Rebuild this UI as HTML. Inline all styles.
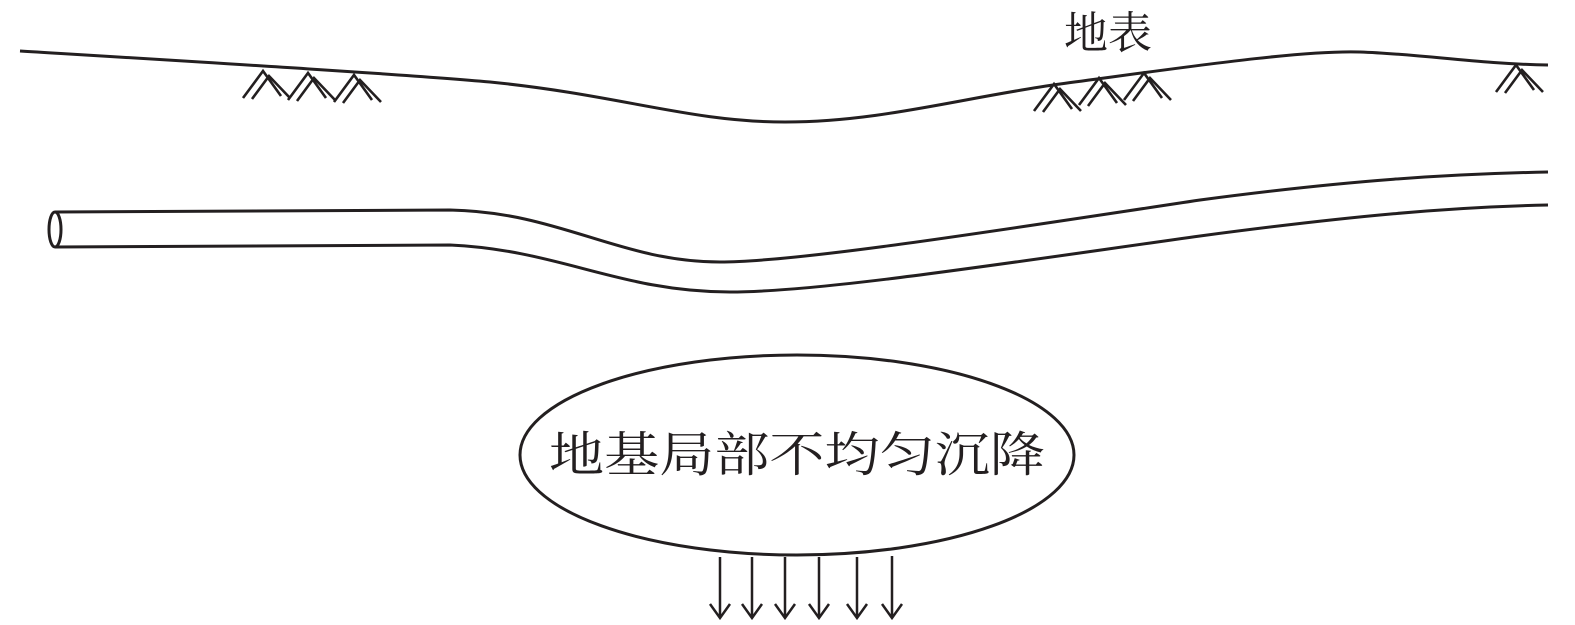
<!DOCTYPE html>
<html><head><meta charset="utf-8"><style>
html,body{margin:0;padding:0;background:#fff;width:1575px;height:625px;overflow:hidden}
svg{display:block}
text{font-family:"Liberation Serif","Noto Serif CJK SC","Noto Sans CJK SC",serif;fill:#231f20}
</style></head><body>
<svg width="1575" height="625" viewBox="0 0 1575 625" xmlns="http://www.w3.org/2000/svg">
<defs>
<path id="ch" d="M-19,27 L1,0 L19,25 M-10,28 L7,5 L28,27" fill="none" stroke="#231f20" stroke-width="2.6"/>
</defs>
<g fill="none" stroke="#231f20" stroke-width="3">
<path d="M20,51 C200,62 400,74 490,82 C620,95 690,122 785,122 C880,122 960,98 1060,84 C1180,68 1300,50 1360,52 C1420,54 1480,64 1548,65"/>
<path d="M55,212 L450,210 C560,212 620,262 720,262 C800,262 1000,230 1200,200 C1350,180 1450,174 1548,172"/>
<path d="M55,247 L450,245 C560,250 620,292 730,292 C820,292 1000,264 1200,236 C1350,216 1450,207 1548,205"/>
<ellipse cx="55" cy="229.5" rx="6" ry="17.5"/>
<ellipse cx="797" cy="455" rx="277" ry="100"/>
</g>
<use href="#ch" x="262" y="71"/>
<use href="#ch" x="307" y="73"/>
<use href="#ch" x="353" y="75"/>
<use href="#ch" x="1053" y="84"/>
<use href="#ch" x="1098" y="78"/>
<use href="#ch" x="1143" y="73"/>
<use href="#ch" x="1515" y="65"/>
<g fill="none" stroke="#231f20" stroke-width="2.5">
<path d="M720,557 V618 M710,604 L720,618 L730,604"/>
<path d="M752,557 V618 M742,604 L752,618 L762,604"/>
<path d="M785,557 V618 M775,604 L785,618 L795,604"/>
<path d="M819,557 V618 M809,604 L819,618 L829,604"/>
<path d="M857,557 V618 M847,604 L857,618 L867,604"/>
<path d="M892,556 V618 M882,604 L892,618 L902,604"/>
</g>
<text x="1064" y="48" font-size="44">地表</text>
<text x="797" y="471" font-size="48" text-anchor="middle" textLength="496" lengthAdjust="spacingAndGlyphs">地基局部不均匀沉降</text>
</svg>
</body></html>
